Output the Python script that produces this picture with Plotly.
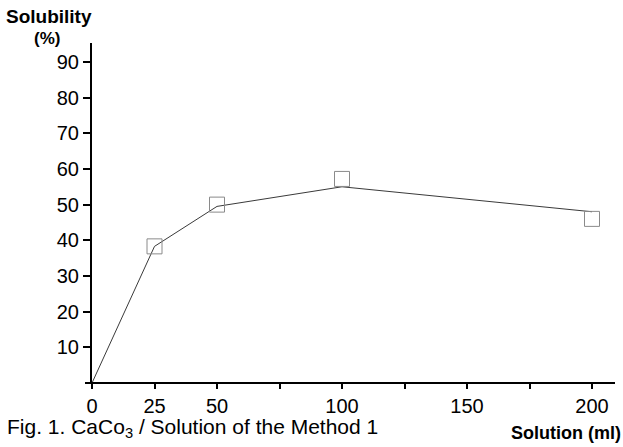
import plotly.graph_objects as go

# ---- data ----
curve_x = [0, 25, 50, 100, 200]
curve_y = [0, 38.3, 49.5, 55.0, 48.0]
point_x = [25, 50, 100, 200]
point_y = [38.3, 50.0, 57.2, 46.0]
x_tick_vals = [0, 25, 50, 100, 150, 200]
x_tick_text = ["0", "25", "50", "100", "150", "200"]
x_minor_vals = [75, 125, 175]
y_tick_vals = [10, 20, 30, 40, 50, 60, 70, 80, 90]
y_tick_text = ["10", "20", "30", "40", "50", "60", "70", "80", "90"]

W, H = 623, 447
L, R, T, B = 92, 8, 43, 64
PW, PH = W - L - R, H - T - B

def px(x):
    return (x - L) / PW

def py(y):
    return (H - B - y) / PH

TICK_FONT = dict(family="Liberation Sans, Arial", size=20, color="black")
BOLD = "Liberation Sans, Arial"

fig = go.Figure()
fig.add_trace(go.Scatter(x=curve_x, y=curve_y, mode="lines",
                         line=dict(color="#3a3a3a", width=1), showlegend=False,
                         hoverinfo="skip"))
fig.add_trace(go.Scatter(x=point_x, y=point_y, mode="markers",
                         marker=dict(symbol="square-open", size=15, color="#8a8a8a",
                                     line=dict(width=1, color="#8a8a8a")),
                         showlegend=False))

fig.update_layout(
    width=W, height=H,
    margin=dict(l=L, r=R, t=T, b=B),
    paper_bgcolor="white", plot_bgcolor="white",
    xaxis=dict(range=[0, 209.2], tickmode="array", tickvals=x_tick_vals, ticktext=x_tick_text,
               showgrid=False, zeroline=False, showline=False,
               ticks="outside", ticklen=5, tickwidth=1.5, tickcolor="black",
               tickfont=TICK_FONT,
               minor=dict(tickmode="array", tickvals=x_minor_vals, ticks="outside",
                          ticklen=5, tickwidth=1.5, tickcolor="black", showgrid=False)),
    yaxis=dict(range=[0, 95.3], tickmode="array", tickvals=y_tick_vals, ticktext=y_tick_text,
               showgrid=False, zeroline=False, showline=True, linecolor="black", linewidth=2,
               ticks="outside", ticklen=7, tickwidth=1.5, tickcolor="black",
               tickfont=TICK_FONT),
    shapes=[dict(type="line", xref="paper", yref="paper", x0=px(85), x1=1.0, y0=0, y1=0,
                 line=dict(color="black", width=2))],
    annotations=[
        dict(text="<b>Solubility</b>", xref="paper", yref="paper", x=px(49), y=py(16),
             xanchor="center", yanchor="middle", showarrow=False,
             font=dict(family=BOLD, size=19, color="black")),
        dict(text="<b>(%)</b>", xref="paper", yref="paper", x=px(47), y=py(38),
             xanchor="center", yanchor="middle", showarrow=False,
             font=dict(family=BOLD, size=17, color="black")),
        dict(text="Fig. 1. CaCo<sub>3</sub> / Solution of the Method 1", xref="paper", yref="paper",
             x=px(5), y=py(428), xanchor="left", yanchor="middle", showarrow=False,
             font=dict(family="Liberation Sans, Arial", size=21, color="black")),
        dict(text="<b>Solution (ml)</b>", xref="paper", yref="paper", x=px(623), y=py(433),
             xanchor="right", yanchor="middle", showarrow=False,
             font=dict(family=BOLD, size=18, color="black")),
    ],
)

fig.write_html("out.html", config={"displayModeBar": False},
               post_script="document.body.style.margin='0px';")
